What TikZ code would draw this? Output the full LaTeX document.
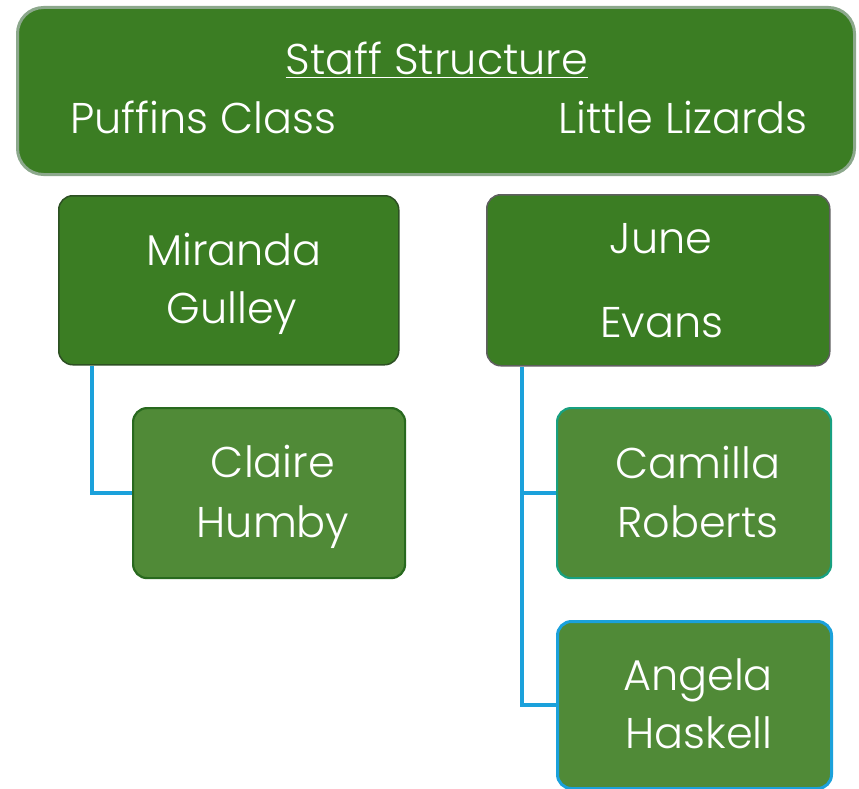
\documentclass[tikz,border=0pt]{standalone}
\usepackage{fontspec}
\setmainfont{Poppins}[UprightFont={* Light}]
\definecolor{dkgreen}{RGB}{59,125,35}
\definecolor{ltgreen}{RGB}{80,138,55}
\definecolor{topborder}{RGB}{140,168,140}
\definecolor{lineblue}{RGB}{27,161,219}
\definecolor{tealb}{RGB}{24,160,128}
\definecolor{mirb}{RGB}{45,80,35}
\definecolor{juneb}{RGB}{95,95,95}
\definecolor{claireb}{RGB}{40,105,30}
\begin{document}
\begin{tikzpicture}[x=1pt,y=-1pt,
  box/.style={draw, line width=1.5pt, rounded corners=14pt, fill=dkgreen, inner sep=0pt, anchor=north west},
  childbox/.style={box, fill=ltgreen, line width=2.2pt},
  txt/.style={text=white, anchor=base, inner sep=0pt, font=\fontsize{43}{52}\selectfont},
  conn/.style={draw=lineblue, line width=3.5pt}]
\useasboundingbox (0,0) rectangle (859,789);
% header
\node[box, draw=topborder, line width=3pt, rounded corners=26pt, minimum width=837pt, minimum height=167pt] (top) at (16,6) {};
\node[txt] (title) at (437,75) {\underline{Staff Structure}};
\node[txt, anchor=base west] (puffins) at (70,133) {Puffins Class};
\node[txt, anchor=base east] (lizards) at (808,133) {Little Lizards};
% boxes
\node[box, draw=mirb, minimum width=340pt, minimum height=169pt] (miranda) at (58,195) {};
\node[box, draw=juneb, minimum width=343pt, minimum height=171pt] (june) at (486,194) {};
\node[childbox, draw=claireb, minimum width=272pt, minimum height=170pt] (claire) at (132,407) {};
\node[childbox, draw=tealb, minimum width=274pt, minimum height=170pt] (camilla) at (556,407) {};
\node[childbox, draw=lineblue, line width=3pt, minimum width=274pt, minimum height=167pt] (angela) at (556,620) {};
% texts
\node[txt] (t1a) at (234,265) {Miranda};
\node[txt] (t1b) at (232,323) {Gulley};
\node[txt] (t2a) at (661,253) {June};
\node[txt] (t2b) at (662,337) {Evans};
\node[txt] (t3a) at (273,477) {Claire};
\node[txt] (t3b) at (273,537) {Humby};
\node[txt] (t4a) at (698,478) {Camilla};
\node[txt] (t4b) at (698,537) {Roberts};
\node[txt] (t5a) at (698,690) {Angela};
\node[txt] (t5b) at (699,748) {Haskell};
% connectors
\coordinate (lx) at (92,0);
\coordinate (rx) at (522,0);
\draw[conn] (miranda.south -| lx) |- (claire.west);
\draw[conn] (june.south -| rx) |- (angela.west);
\draw[conn] (camilla.west -| rx) -- (camilla.west);
\end{tikzpicture}
\end{document}
